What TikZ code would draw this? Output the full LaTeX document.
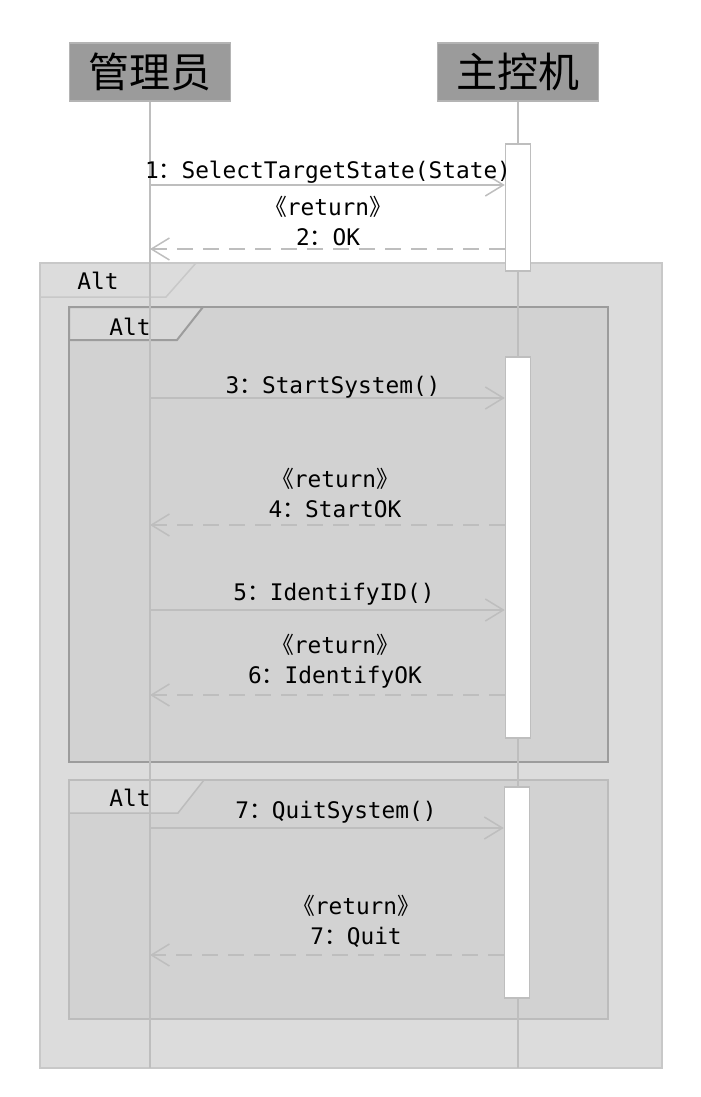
\documentclass[tikz,border=0pt]{standalone}
\usepackage{fontspec}
\setmainfont{DejaVu Sans Mono}
\newfontfamily\cjk{Noto Sans CJK SC}
\usepackage{tikz}
\usetikzlibrary{arrows.meta,positioning,calc}
\definecolor{headfill}{HTML}{9B9B9B}
\definecolor{headline}{HTML}{B4B4B4}
\definecolor{outerfill}{HTML}{DCDCDC}
\definecolor{outerline}{HTML}{C8C8C8}
\definecolor{innerfill}{HTML}{D2D2D2}
\definecolor{innertab}{HTML}{D8D8D8}
\definecolor{innerline}{HTML}{9C9C9C}
\definecolor{innerlinelt}{HTML}{BCBCBC}
\definecolor{lifecol}{HTML}{BEBEBE}
\newcommand{\fullcolon}{{\cjk ：}}
\newcommand{\retlabel}{{\cjk 《}return{\cjk 》}}

\begin{document}
\begin{tikzpicture}[x=1pt, y=-1pt,
  every node/.style={font=\fontsize{22.8}{30}\selectfont, text=black},
  head/.style={draw=headline, fill=headfill, line width=1.5pt, minimum width=161pt, minimum height=58pt, inner sep=0pt, font=\cjk\fontsize{41}{41}\selectfont},
  actbar/.style={draw=lifecol, fill=white, line width=1.5pt, minimum width=25pt, inner sep=0pt, anchor=north},
  life/.style={draw=lifecol, line width=1.5pt},
  msg/.style={draw=lifecol, line width=1.5pt, -{Straight Barb[length=18pt,width=22pt]}},
  ret/.style={msg, dash pattern=on 16pt off 10pt},
  lbl/.style={align=center, inner sep=0pt}]
\useasboundingbox (0,0) rectangle (701,1097);
% outer Alt frame
\draw[draw=outerline, fill=outerfill, line width=1.5pt] (40,263) rectangle (662,1068);
\draw[outerline, line width=1.5pt] (40,297) -- (166,297) -- (196,263);
\node (alt0) at (98,281) {Alt};
% inner Alt frames
\draw[draw=innerline, fill=innerfill, line width=2pt] (69,307) rectangle (608,762);
\filldraw[draw=innerline, fill=innertab, line width=2pt] (69,307) -- (203,307) -- (177,340) -- (69,340) -- cycle;
\node (alt1) at (130,327) {Alt};
\draw[draw=innerlinelt, fill=innerfill, line width=1.5pt] (69,780) rectangle (608,1019);
\filldraw[draw=innerlinelt, fill=innertab, line width=1.5pt] (69,780) -- (204,780) -- (178,813) -- (69,813) -- cycle;
\node (alt2) at (130,798) {Alt};
% heads and lifelines
\node[head] (adm) at (150,72) {管理员};
\node[head] (host) at (518,72) {主控机};
\coordinate (bottom) at (0,1068);
\foreach \n in {adm,host} \draw[life] (\n.south) -- (\n.south |- bottom);
% activations
\node[actbar, minimum height=127pt] (act1) at (518,143) {};
\node[actbar, minimum height=381pt] (act2) at (518,356) {};
\node[actbar, minimum height=211pt] (act3) at (517,786) {};
% calls and returns
\foreach \y/\b in {185/act1,398/act2,610/act2,828/act3} \draw[msg] (adm.south |- 0,\y) -- (\b.west |- 0,\y);
\foreach \y/\b in {249/act1,525/act2,695/act2,955/act3} \draw[ret] (\b.west |- 0,\y) -- (adm.south |- 0,\y);
\node[lbl] (m1) at (328,172) {1\fullcolon SelectTargetState(State)};
\node[lbl] (m2) at (328,221) {\retlabel\\2\fullcolon OK};
\node[lbl] (m3) at (333,387) {3\fullcolon StartSystem()};
\node[lbl] (m4) at (335,493) {\retlabel\\4\fullcolon StartOK};
\node[lbl] (m5) at (334,594) {5\fullcolon IdentifyID()};
\node[lbl] (m6) at (335,661) {\retlabel\\6\fullcolon IdentifyOK};
\node[lbl] (m7) at (336,812) {7\fullcolon QuitSystem()};
\node[lbl] (m8) at (356,921) {\retlabel\\7\fullcolon Quit};
\end{tikzpicture}
\end{document}
